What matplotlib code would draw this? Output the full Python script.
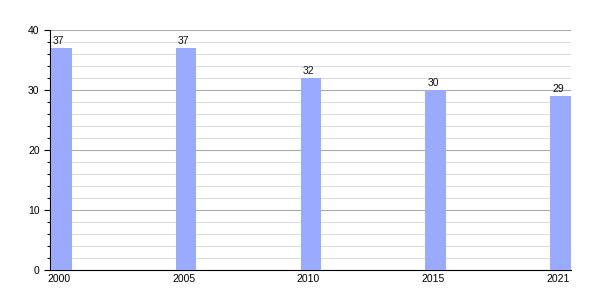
import matplotlib
matplotlib.use("Agg")
import matplotlib.pyplot as plt
from matplotlib.ticker import MultipleLocator

plt.rcParams["font.family"] = ["Liberation Sans", "DejaVu Sans"]

years = ["2000", "2005", "2010", "2015", "2021"]
values = [37, 37, 32, 30, 29]

fig = plt.figure(figsize=(6, 3), dpi=100)
ax = fig.add_axes([0.0833, 0.1, 0.868, 0.8])

x = list(range(len(years)))
width = 0.166
bars = ax.bar(x, values, width=width, align="edge", color="#99aaff", zorder=3)

for xi, v in zip(x, values):
    ax.text(xi + 0.015, v + 0.4, str(v), ha="left", va="bottom", fontsize=7.5, color="#111111", zorder=4)

ax.set_xlim(-0.008, 4 + width)
ax.set_ylim(0, 40)
ax.set_xticks([xi + width / 2 - 0.02 for xi in x])
ax.set_xticklabels(years, fontsize=7.5)
ax.tick_params(axis="x", length=0, pad=3)

ax.yaxis.set_major_locator(MultipleLocator(10))
ax.yaxis.set_minor_locator(MultipleLocator(2))
ax.tick_params(axis="y", which="major", length=4, labelsize=7.5, width=0.8)
ax.tick_params(axis="y", which="minor", length=2, width=0.8)

ax.grid(axis="y", which="major", color="#aaaaaa", linewidth=0.8, zorder=1)
ax.grid(axis="y", which="minor", color="#dddddd", linewidth=0.8, zorder=1)
ax.set_axisbelow(True)

ax.spines["top"].set_visible(False)
ax.spines["right"].set_visible(False)
ax.spines["left"].set_color("black")
ax.spines["bottom"].set_color("black")

fig.savefig("out.png", dpi=100)
